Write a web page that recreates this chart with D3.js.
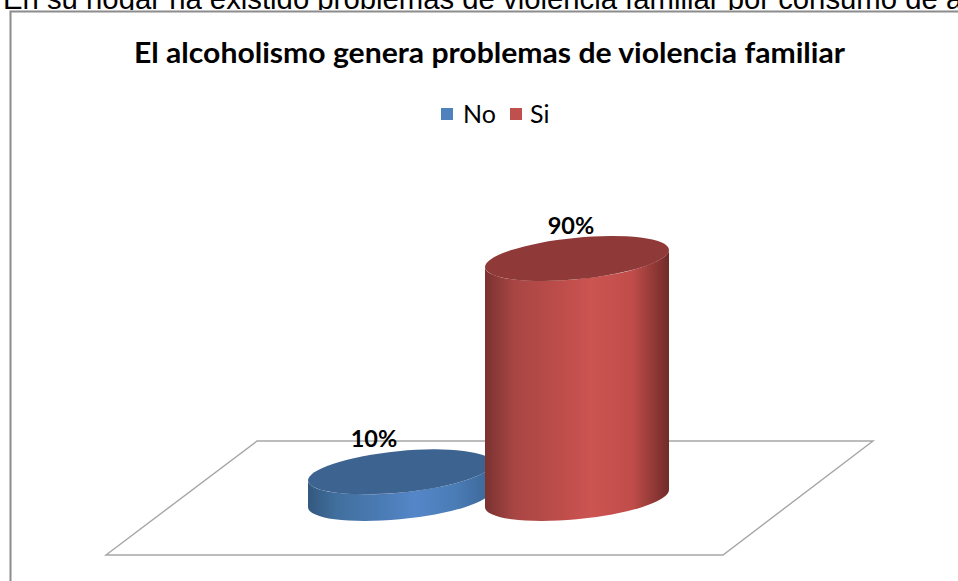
<!DOCTYPE html>
<html><head><meta charset="utf-8">
<script src="https://cdnjs.cloudflare.com/ajax/libs/d3/7.8.5/d3.min.js"></script>
<style>html,body{margin:0;padding:0;background:#fff;overflow:hidden}svg{display:block}</style>
</head><body><svg id="c" width="958" height="581"></svg>
<script>
const categories = ["No", "Si"];
const values = [10, 90];
const labels = ["10%", "90%"];
const chartTitle = "El alcoholismo genera problemas de violencia familiar";
const pageText = "En su hogar ha existido problemas de violencia familiar por consumo de alcohol";

const svg = d3.select("#c");
const tilt = -5.6, a = 92.4, b = 20.7;
const halfW = 92, skew = 8.5;            // ellipse extreme offsets
const x = d3.scalePoint().domain(categories).range([400, 577]);
const y = d3.scaleLinear().domain([0, 90]).range([498.5, 258.5]);

const palette = {
  No: {top:"#3d6390", stops:["#33587f","#41709f","#4a7ab2","#5586c8","#4a7cb6","#3c6797"], swatch:"#4f81bd"},
  Si: {top:"#8f3a38", stops:["#7a3230","#a84644","#bb4c49","#cc5451","#c04d4a","#702b29"], swatch:"#c0504d"}
};
const offs = [0, .16, .38, .58, .8, 1];
const defs = svg.append("defs");
categories.forEach(c => {
  const g = defs.append("linearGradient").attr("id","g"+c).attr("x1",0).attr("x2",1).attr("y1",0).attr("y2",0);
  palette[c].stops.forEach((s,i)=>g.append("stop").attr("offset",offs[i]).attr("stop-color",s));
});

// top page text, cut off by the window edge
svg.append("text").attr("x",3).attr("y",9).attr("font-family","Liberation Sans")
  .attr("font-size",29.3).attr("fill","#000").text(pageText);
svg.append("rect").attr("x",0).attr("y",10).attr("width",958).attr("height",571).attr("fill","#fff");

// chart frame
svg.append("path").attr("d","M10.5,581V11.5H958").attr("fill","none").attr("stroke","#8c8c8c").attr("stroke-width",2);

// floor
svg.append("path").attr("d",d3.line()([[257,441],[873,441],[723,555],[106,555]])+"Z")
  .attr("fill","#fff").attr("stroke","#a6a6a6").attr("stroke-width",1.4);

// title
svg.append("text").attr("x",489.5).attr("y",63).attr("text-anchor","middle")
  .attr("font-family","Lato").attr("font-weight",700).attr("font-size",29)
  .attr("textLength",711).attr("lengthAdjust","spacingAndGlyphs").attr("fill","#000").text(chartTitle);

// legend
const legendX = [441, 510], legendTextX = [463, 530];
const leg = svg.selectAll("g.leg").data(categories).join("g").attr("class","leg");
leg.append("rect").attr("x",(d,i)=>legendX[i]).attr("y",108).attr("width",12).attr("height",12).attr("fill",d=>palette[d].swatch);
leg.append("text").attr("x",(d,i)=>legendTextX[i]).attr("y",123).attr("font-family","Lato").attr("font-size",25).attr("fill","#000").text(d=>d);

// cylinders
const bars = svg.selectAll("g.bar").data(categories.map((c,i)=>({c,v:values[i],l:labels[i]}))).join("g").attr("class","bar");
bars.append("path").attr("fill",d=>`url(#g${d.c})`).attr("d",d=>{
  const cx=x(d.c), t=y(d.v), base=y(0);
  return `M${cx-halfW},${t+skew}L${cx-halfW},${base+skew}`+
    `A${a},${b} ${tilt} 0 0 ${cx+halfW},${base-skew}`+
    `L${cx+halfW},${t-skew}`+
    `A${a},${b} ${tilt} 0 1 ${cx-halfW},${t+skew}Z`;
});
bars.append("ellipse").attr("cx",d=>x(d.c)).attr("cy",d=>y(d.v)).attr("rx",a).attr("ry",b)
  .attr("transform",d=>`rotate(${tilt} ${x(d.c)} ${y(d.v)})`).attr("fill",d=>palette[d.c].top);
bars.append("text").attr("x",d=>x(d.c)-(d.c==="No"?26:6)).attr("y",d=>y(d.v)-25).attr("text-anchor","middle")
  .attr("font-family","Lato").attr("font-weight",700).attr("font-size",23.5).attr("fill","#000").text(d=>d.l);
</script></body></html>
